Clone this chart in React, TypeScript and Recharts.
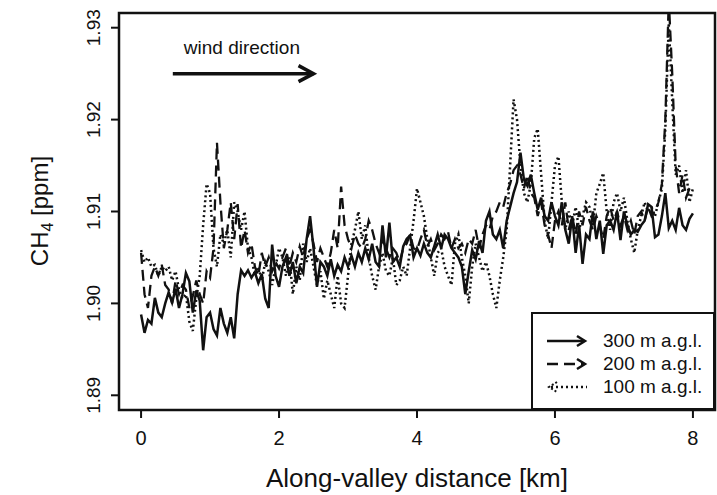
import React from "react";
import { LineChart, Line, XAxis, YAxis, ReferenceArea, ReferenceLine } from "recharts";

// Along-valley CH4 transects at three flight levels (R base-graphics look)

const FONT = '"Liberation Sans", Arial, Helvetica, sans-serif';
const INK = "#111";

const STEP_KM = 0.05; // sampling step of the transects
const xTicks = [0, 2, 4, 6, 8];
const yTicks = [1.89, 1.9, 1.91, 1.92, 1.93];
const xDomain: [number, number] = [-0.32, 8.32];
const yDomain: [number, number] = [1.8884, 1.9316];

const seriesLabels = ["300 m a.g.l.", "200 m a.g.l.", "100 m a.g.l."];

// rows of ten = 0.5 km each
const ch4At300m = [
  1.8988, 1.8968, 1.8982, 1.8978, 1.9006, 1.899, 1.8985, 1.9, 1.9012, 1.9001,
  1.9016, 1.8995, 1.901, 1.9033, 1.9024, 1.899, 1.9014, 1.9003, 1.8949, 1.8985,
  1.899, 1.8972, 1.8965, 1.8995, 1.8978, 1.8968, 1.8985, 1.8962, 1.901, 1.9036,
  1.903, 1.9036, 1.9028, 1.9034, 1.9022, 1.9032, 1.9005, 1.8995, 1.9064, 1.903,
  1.9018, 1.904, 1.905, 1.903, 1.9045, 1.9022, 1.904, 1.9033, 1.907, 1.9095,
  1.906, 1.9018, 1.9045, 1.904, 1.903, 1.9048, 1.903, 1.9042, 1.9035, 1.905,
  1.904, 1.9052, 1.904, 1.9055, 1.9045, 1.906, 1.9048, 1.9065, 1.9045, 1.904,
  1.9085, 1.905, 1.9088, 1.9045, 1.905, 1.904, 1.9062, 1.907, 1.9074, 1.905,
  1.906, 1.9052, 1.9065, 1.9055, 1.905, 1.9062, 1.9075, 1.906, 1.9075, 1.907,
  1.906, 1.9055, 1.905, 1.904, 1.901, 1.9035, 1.9058, 1.9048, 1.9068, 1.9055,
  1.909, 1.91, 1.9075, 1.907, 1.908, 1.906, 1.909, 1.9105, 1.912, 1.9132,
  1.9164, 1.9135, 1.9128, 1.914, 1.912, 1.9102, 1.9115, 1.9095, 1.909, 1.911,
  1.9095, 1.9085, 1.911, 1.908, 1.9065, 1.9095, 1.9055, 1.9085, 1.9043, 1.9075,
  1.907, 1.91, 1.907, 1.909, 1.9054, 1.9085, 1.909, 1.908, 1.91, 1.9069,
  1.91, 1.9085, 1.9075, 1.908, 1.9078, 1.9085, 1.909, 1.9108, 1.9105, 1.9072,
  1.9075, 1.9095, 1.912, 1.9082, 1.909, 1.908, 1.9104, 1.9085, 1.908, 1.9092,
  1.9098,
];

const ch4At200m = [
  1.9055, 1.901, 1.8995, 1.903, 1.904, 1.903, 1.9042, 1.902, 1.9015, 1.9,
  1.9025, 1.901, 1.902, 1.9015, 1.8995, 1.9008, 1.9025, 1.901, 1.9, 1.9035,
  1.9028, 1.906, 1.9175, 1.911, 1.906, 1.908, 1.911, 1.907, 1.9108, 1.906,
  1.908, 1.9055, 1.9065, 1.904, 1.903, 1.9055, 1.904, 1.905, 1.9035, 1.9045,
  1.9038, 1.905, 1.906, 1.904, 1.9055, 1.9045, 1.9062, 1.905, 1.907, 1.908,
  1.9065, 1.9045, 1.906, 1.905, 1.904, 1.9055, 1.908, 1.906, 1.9127, 1.9085,
  1.907, 1.906, 1.9075, 1.9065, 1.906, 1.907, 1.909, 1.908, 1.9065, 1.9055,
  1.907, 1.906, 1.905, 1.906, 1.9055, 1.9045, 1.906, 1.9065, 1.9075, 1.906,
  1.9058, 1.907, 1.908, 1.9062, 1.907, 1.9058, 1.9065, 1.9075, 1.907, 1.9078,
  1.906, 1.907, 1.906, 1.9065, 1.9055, 1.907, 1.9065, 1.908, 1.906, 1.9075,
  1.9085, 1.908, 1.9095, 1.91, 1.911, 1.9105, 1.912, 1.913, 1.9145, 1.915,
  1.914, 1.9125, 1.914, 1.912, 1.9115, 1.9095, 1.911, 1.9085, 1.9075, 1.906,
  1.909, 1.91, 1.9085, 1.911, 1.908, 1.9095, 1.9075, 1.91, 1.9085, 1.9105,
  1.909, 1.908, 1.9095, 1.9085, 1.907, 1.9095, 1.9105, 1.909, 1.91, 1.9085,
  1.9095, 1.908, 1.909, 1.9075, 1.9095, 1.91, 1.909, 1.9105, 1.9095, 1.91,
  1.911, 1.913, 1.92, 1.933, 1.925, 1.915, 1.912, 1.914, 1.9115, 1.9125,
  1.913,
];

const ch4At100m = [
  1.9058, 1.9045, 1.905, 1.904, 1.9042, 1.903, 1.904, 1.9035, 1.904, 1.9025,
  1.9035, 1.9015, 1.9005, 1.901, 1.898, 1.897, 1.9005, 1.903, 1.9085, 1.913,
  1.912, 1.906, 1.904, 1.9075, 1.9065, 1.908, 1.905, 1.911, 1.91, 1.908,
  1.91, 1.906, 1.905, 1.903, 1.904, 1.9025, 1.9045, 1.9035, 1.902, 1.904,
  1.906, 1.905, 1.903, 1.905, 1.901, 1.904, 1.9025, 1.9065, 1.9045, 1.906,
  1.904, 1.902, 1.9035, 1.9005, 1.9025, 1.901, 1.8995, 1.903, 1.9, 1.8995,
  1.903, 1.9065, 1.908, 1.91, 1.907, 1.9085, 1.905, 1.903, 1.9015, 1.904,
  1.9055, 1.9035, 1.903, 1.905, 1.902, 1.9025, 1.904, 1.903, 1.906, 1.909,
  1.9125, 1.911, 1.9095, 1.907, 1.905, 1.903, 1.9055, 1.906, 1.904, 1.903,
  1.902, 1.9065, 1.9075, 1.905, 1.903, 1.9, 1.904, 1.9065, 1.905, 1.9035,
  1.9045, 1.903, 1.901, 1.8995, 1.9025, 1.905, 1.908, 1.915, 1.9222, 1.92,
  1.915, 1.912, 1.911, 1.913, 1.918, 1.919, 1.914, 1.909, 1.907, 1.911,
  1.915, 1.916, 1.911, 1.908, 1.91, 1.9085, 1.9105, 1.908, 1.9095, 1.911,
  1.9105, 1.9085, 1.912, 1.913, 1.9142, 1.91, 1.908, 1.911, 1.912, 1.91,
  1.9115, 1.909, 1.907, 1.9055, 1.908, 1.9095, 1.911, 1.91, 1.9105, 1.9095,
  1.911, 1.9125, 1.919, 1.9305, 1.922, 1.914, 1.915, 1.912, 1.9145, 1.911,
  1.9125,
];

// wind direction annotation, in data units
const windArrow = [
  { x: 0.46, y: 1.925 },
  { x: 2.5, y: 1.925 },
];

const rows = ch4At300m.map((v, i) => ({
  km: Math.round(i * STEP_KM * 100) / 100,
  m300: v,
  m200: ch4At200m[i],
  m100: ch4At100m[i],
}));

function XTick({ x, y, payload }: any) {
  return (
    <text x={x} y={y + 25} textAnchor="middle" fontSize={20} fill={INK} fontFamily={FONT}>
      {payload.value}
    </text>
  );
}

function YTick({ x, y, payload }: any) {
  const bx = x - 9;
  return (
    <text
      x={bx}
      y={y}
      transform={`rotate(-90, ${bx}, ${y})`}
      textAnchor="middle"
      fontSize={19}
      fill={INK}
      fontFamily={FONT}
    >
      {Number(payload.value).toFixed(2)}
    </text>
  );
}

function WindArrow({ x1, y1, x2, y2 }: any) {
  return (
    <g>
      <text x={x1 + 11} y={y1 - 20} fontSize={19} fill={INK} fontFamily={FONT}>
        wind direction
      </text>
      <line x1={x1} y1={y1} x2={x2} y2={y2} stroke={INK} strokeWidth={3.5} />
      <polyline
        points={`${x2 - 15},${y2 - 8} ${x2},${y2} ${x2 - 15},${y2 + 8}`}
        fill="none"
        stroke={INK}
        strokeWidth={3.5}
      />
    </g>
  );
}

function LegendSample({ dash, left }: { dash?: string; left?: boolean }) {
  return (
    <svg width={44} height={16} style={{ display: "block" }}>
      <line x1={left ? 6 : 2} y1={8} x2={left ? 42 : 38} y2={8} stroke={INK} strokeWidth={2.5} strokeDasharray={dash} />
      {left ? (
        <polyline points="12,3 4,8 12,13" fill="none" stroke={INK} strokeWidth={2} strokeDasharray="2 2" />
      ) : (
        <polyline points="32,3 40,8 32,13" fill="none" stroke={INK} strokeWidth={2.5} />
      )}
    </svg>
  );
}

const legendStyles = [{}, { dash: "11 6" }, { dash: "2 3", left: true }];

export default function App() {
  return (
    <div style={{ position: "absolute", left: 0, top: 0, width: 717, height: 495, background: "#fff" }}>
      <LineChart width={717} height={495} data={rows} margin={{ top: 13, right: 2, bottom: 0, left: 0 }}>
        <XAxis
          dataKey="km"
          type="number"
          domain={xDomain}
          ticks={xTicks}
          allowDataOverflow
          height={85}
          axisLine={false}
          tickLine={{ stroke: INK, strokeWidth: 2 }}
          tickSize={8}
          tickMargin={2}
          tick={<XTick />}
          label={{
            content: () => (
              <text x={417} y={487} textAnchor="middle" fontSize={26} fill={INK} fontFamily={FONT}>
                Along-valley distance [km]
              </text>
            ),
          }}
        />
        <YAxis
          type="number"
          domain={yDomain}
          ticks={yTicks}
          allowDataOverflow
          width={119}
          axisLine={false}
          tickLine={{ stroke: INK, strokeWidth: 2 }}
          tickSize={8}
          tickMargin={2}
          tick={<YTick />}
          label={{
            content: () => (
              <text
                x={48}
                y={211}
                transform="rotate(-90, 48, 211)"
                textAnchor="middle"
                fontSize={24}
                fill={INK}
                fontFamily={FONT}
              >
                CH
                <tspan fontSize={16} dy={5}>4</tspan>
                <tspan dy={-5}> [ppm]</tspan>
              </text>
            ),
          }}
        />
        <Line dataKey="m100" type="linear" stroke={INK} strokeWidth={2.5} strokeDasharray="2 3" dot={false} activeDot={false} isAnimationActive={false} />
        <Line dataKey="m200" type="linear" stroke={INK} strokeWidth={2.3} strokeDasharray="11 6" dot={false} activeDot={false} isAnimationActive={false} />
        <Line dataKey="m300" type="linear" stroke={INK} strokeWidth={2.5} dot={false} activeDot={false} isAnimationActive={false} />
        <ReferenceLine segment={windArrow} ifOverflow="visible" shape={<WindArrow />} />
        <ReferenceArea
          x1={xDomain[0]}
          x2={xDomain[1]}
          y1={yDomain[0]}
          y2={yDomain[1]}
          ifOverflow="visible"
          fill="none"
          stroke={INK}
          strokeWidth={2.5}
        />
      </LineChart>
      <div
        style={{
          position: "absolute",
          left: 531,
          top: 312,
          width: 184,
          height: 98,
          boxSizing: "border-box",
          border: `2.5px solid ${INK}`,
          background: "#fff",
          fontFamily: FONT,
          fontSize: 19,
          color: INK,
          paddingTop: 15,
        }}
      >
        {seriesLabels.map((label, i) => (
          <div key={label} style={{ display: "flex", alignItems: "center", height: 23 }}>
            <div style={{ marginLeft: 12, width: 58 }}>
              <LegendSample {...legendStyles[i]} />
            </div>
            <span style={{ lineHeight: "23px" }}>{label}</span>
          </div>
        ))}
      </div>
    </div>
  );
}
